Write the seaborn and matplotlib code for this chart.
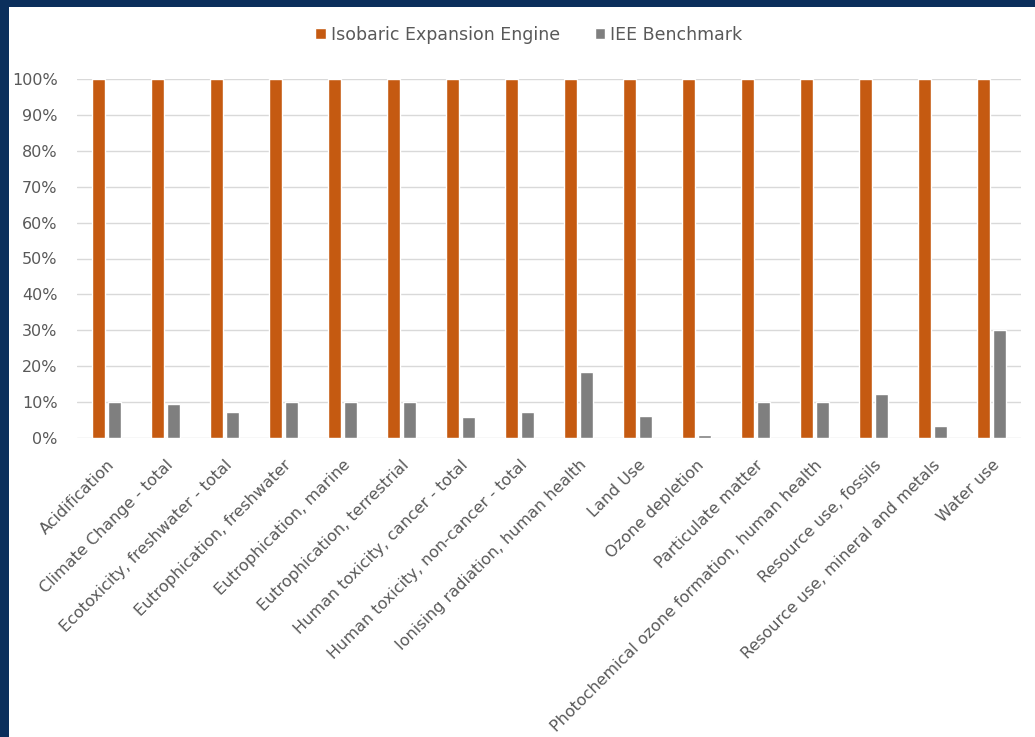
import matplotlib
matplotlib.use("Agg")
import matplotlib.pyplot as plt
from matplotlib.patches import Rectangle
import seaborn as sns
import pandas as pd
import numpy as np

categories = [
    "Acidification",
    "Climate Change - total",
    "Ecotoxicity, freshwater - total",
    "Eutrophication, freshwater",
    "Eutrophication, marine",
    "Eutrophication, terrestrial",
    "Human toxicity, cancer - total",
    "Human toxicity, non-cancer - total",
    "Ionising radiation, human health",
    "Land Use",
    "Ozone depletion",
    "Particulate matter",
    "Photochemical ozone formation, human health",
    "Resource use, fossils",
    "Resource use, mineral and metals",
    "Water use",
]
engine_values = [1.0] * 16
benchmark_values = [0.101, 0.095, 0.073, 0.101, 0.101, 0.101, 0.058, 0.072,
                    0.183, 0.061, 0.007, 0.101, 0.099, 0.122, 0.034, 0.301]
series_names = ["Isobaric Expansion Engine", "IEE Benchmark"]
y_ticks = [0.0, 0.1, 0.2, 0.3, 0.4, 0.5, 0.6, 0.7, 0.8, 0.9, 1.0]
y_tick_labels = ["0%", "10%", "20%", "30%", "40%", "50%", "60%", "70%", "80%", "90%", "100%"]

df = pd.DataFrame({
    "category": categories * 2,
    "value": engine_values + benchmark_values,
    "series": [series_names[0]] * 16 + [series_names[1]] * 16,
})

sns.set_theme(style="white")
plt.rcParams["font.family"] = ["DejaVu Sans"]

fig = plt.figure(figsize=(10.35, 7.37), dpi=100)
fig.patch.set_facecolor("#0b2f5c")
W, H = 1035, 737
fig.add_artist(Rectangle((9 / W, 0), 1 - 9 / W, 1 - 7 / H, transform=fig.transFigure,
                         facecolor="white", edgecolor="none", zorder=0))

ax = fig.add_axes([77 / W, 1 - 438 / H, (1021 - 77) / W, (438 - 79) / H])
ax.set_facecolor("white")
ax.patch.set_alpha(0)

sns.barplot(data=df, x="category", y="value", hue="series", hue_order=series_names,
            palette=["#c55a11", "#7f7f7f"], width=0.56, gap=0.21, ax=ax,
            legend=False, saturation=1, errorbar=None)

ax.set_ylim(0, 1.0)
ax.set_xlim(-0.5, len(categories) - 0.5)
ax.set_yticks(y_ticks)
ax.set_yticklabels(y_tick_labels, fontsize=11.5, color="#595959")
ax.yaxis.grid(True, color="#d9d9d9", linewidth=1)
ax.set_axisbelow(True)
for s in ["left", "right", "top", "bottom"]:
    ax.spines[s].set_visible(False)
ax.tick_params(axis="y", length=0, pad=14)
ax.tick_params(axis="x", length=0, pad=14)
ax.set_xticks(range(len(categories)))
ax.set_xticklabels(categories, rotation=45, ha="right", rotation_mode="anchor",
                   fontsize=11.5, color="#595959")
ax.set_xlabel("")
ax.set_ylabel("")

handles = [Rectangle((0, 0), 1, 1, facecolor="#c55a11"),
           Rectangle((0, 0), 1, 1, facecolor="#7f7f7f")]
fig.legend(handles, series_names, loc="center", bbox_to_anchor=(529 / W, 1 - 35 / H),
           ncol=2, frameon=False, fontsize=12.5, labelcolor="#595959",
           handlelength=0.6, handleheight=0.6, handletextpad=0.3, columnspacing=2.0)

fig.savefig("out.png", dpi=100, facecolor=fig.get_facecolor())
